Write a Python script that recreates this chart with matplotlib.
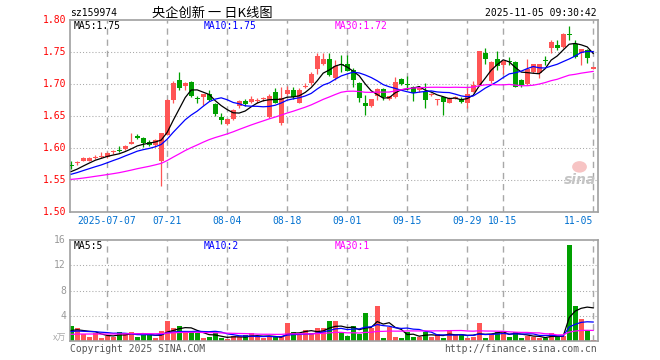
import matplotlib as mpl
mpl.use('Agg')
import matplotlib.pyplot as plt
from matplotlib.patches import Ellipse
import numpy as np
import pandas as pd

# daily K data, 2025-06-27 .. 2025-11-05 (price in CNY, volume in 万)
open_ = [1.573, 1.576, 1.580, 1.580, 1.585, 1.586, 1.586, 1.593, 1.596, 1.598,
         1.607, 1.619, 1.616, 1.609, 1.604, 1.580, 1.620, 1.675, 1.706, 1.697,
         1.703, 1.677, 1.680, 1.685, 1.669, 1.649, 1.638, 1.645, 1.665, 1.674,
         1.672, 1.673, 1.676, 1.648, 1.688, 1.639, 1.684, 1.690, 1.671, 1.695,
         1.701, 1.724, 1.731, 1.739, 1.710, 1.731, 1.731, 1.722, 1.701, 1.670,
         1.666, 1.681, 1.692, 1.677, 1.679, 1.708, 1.699, 1.696, 1.690, 1.688,
         1.683, 1.675, 1.679, 1.671, 1.678, 1.677, 1.671, 1.688, 1.698, 1.749,
         1.705, 1.739, 1.730, 1.736, 1.735, 1.707, 1.700, 1.718, 1.717, 1.737,
         1.756, 1.761, 1.758, 1.778, 1.763, 1.748, 1.753, 1.724]
high = [1.579, 1.580, 1.586, 1.586, 1.589, 1.593, 1.593, 1.597, 1.603, 1.605,
        1.623, 1.622, 1.617, 1.612, 1.614, 1.623, 1.676, 1.704, 1.719, 1.703,
        1.704, 1.681, 1.685, 1.691, 1.670, 1.654, 1.646, 1.661, 1.675, 1.676,
        1.681, 1.678, 1.680, 1.684, 1.694, 1.696, 1.697, 1.696, 1.693, 1.701,
        1.718, 1.748, 1.749, 1.749, 1.738, 1.745, 1.745, 1.725, 1.703, 1.683,
        1.677, 1.694, 1.693, 1.682, 1.711, 1.709, 1.712, 1.697, 1.694, 1.701,
        1.686, 1.677, 1.680, 1.679, 1.681, 1.679, 1.693, 1.704, 1.751, 1.756,
        1.736, 1.752, 1.737, 1.742, 1.736, 1.708, 1.739, 1.732, 1.732, 1.743,
        1.769, 1.768, 1.779, 1.791, 1.769, 1.755, 1.755, 1.727]
low = [1.567, 1.574, 1.579, 1.579, 1.583, 1.584, 1.585, 1.591, 1.593, 1.597,
       1.606, 1.614, 1.601, 1.603, 1.602, 1.541, 1.620, 1.671, 1.691, 1.690,
       1.680, 1.670, 1.667, 1.673, 1.650, 1.637, 1.636, 1.644, 1.662, 1.666,
       1.671, 1.671, 1.673, 1.647, 1.670, 1.636, 1.683, 1.676, 1.670, 1.693,
       1.699, 1.715, 1.730, 1.712, 1.706, 1.719, 1.720, 1.696, 1.672, 1.652,
       1.664, 1.675, 1.675, 1.675, 1.678, 1.699, 1.691, 1.674, 1.688, 1.663,
       1.682, 1.667, 1.652, 1.670, 1.677, 1.671, 1.662, 1.687, 1.697, 1.731,
       1.701, 1.722, 1.716, 1.730, 1.695, 1.696, 1.699, 1.717, 1.709, 1.730,
       1.749, 1.753, 1.757, 1.768, 1.740, 1.730, 1.733, 1.724]
close = [1.572, 1.577, 1.584, 1.585, 1.586, 1.587, 1.592, 1.595, 1.595, 1.603,
         1.608, 1.615, 1.608, 1.604, 1.612, 1.623, 1.675, 1.702, 1.693, 1.701,
         1.682, 1.676, 1.684, 1.675, 1.653, 1.643, 1.645, 1.659, 1.673, 1.669,
         1.676, 1.674, 1.677, 1.681, 1.671, 1.678, 1.690, 1.679, 1.690, 1.697,
         1.716, 1.743, 1.739, 1.714, 1.728, 1.730, 1.721, 1.707, 1.678, 1.665,
         1.676, 1.692, 1.679, 1.681, 1.703, 1.700, 1.698, 1.686, 1.693, 1.675,
         1.685, 1.676, 1.672, 1.678, 1.679, 1.672, 1.685, 1.698, 1.751, 1.739,
         1.735, 1.728, 1.736, 1.735, 1.696, 1.698, 1.724, 1.731, 1.731, 1.736,
         1.765, 1.756, 1.778, 1.776, 1.742, 1.754, 1.740, 1.727]
volume = [2.3, 2.0, 1.1, 0.7, 1.3, 0.5, 0.8, 0.7, 1.5, 1.3,
          1.5, 0.7, 0.9, 0.9, 0.5, 1.6, 3.2, 2.1, 2.3, 1.4,
          1.4, 1.2, 0.4, 0.6, 1.2, 0.4, 0.3, 0.8, 0.6, 1.0,
          1.2, 0.6, 0.4, 0.8, 0.6, 0.6, 2.8, 1.5, 0.9, 1.7,
          1.3, 2.0, 2.1, 3.1, 3.1, 1.5, 0.85, 2.4, 1.1, 4.4,
          2.0, 5.5, 0.4, 2.2, 0.7, 0.4, 1.4, 0.7, 0.6, 1.5,
          0.7, 1.1, 0.4, 1.8, 0.9, 0.9, 0.4, 0.6, 2.9, 0.5,
          1.1, 1.4, 1.5, 0.7, 1.4, 0.4, 0.8, 0.6, 0.5, 0.4,
          1.3, 0.8, 0.8, 15.2, 5.6, 3.5, 1.75, 0.2]

# sessions before 06-27 (off chart), only feed the moving averages
prior_close = [1.551, 1.549, 1.546, 1.544, 1.547, 1.550, 1.552, 1.548, 1.545, 1.547,
               1.549, 1.551, 1.548, 1.546, 1.552, 1.541, 1.543, 1.540, 1.545, 1.546,
               1.551, 1.553, 1.555, 1.556, 1.559, 1.558, 1.560, 1.562, 1.564]
prior_vol = [0.8, 0.9, 0.7, 1.0, 0.8, 0.6, 0.9, 1.1, 0.7, 0.8,
             0.9, 0.8, 0.7, 1.0, 0.9, 0.8, 0.7, 0.9, 0.8, 0.9,
             1.2, 1.5, 1.1, 1.6, 1.3, 1.4, 1.7, 1.3, 1.6]

tick_dates = ['2025-07-07', '2025-07-21', '2025-08-04', '2025-08-18', '2025-09-01',
              '2025-09-15', '2025-09-29', '2025-10-15', '2025-11-05']
tick_labels = ['2025-07-07', '07-21', '08-04', '08-18', '09-01',
               '09-15', '09-29', '10-15', '11-05']
price_ticks = [1.50, 1.55, 1.60, 1.65, 1.70, 1.75, 1.80]
vol_ticks = [4, 8, 12, 16]
price_legend = ['MA5:1.75', 'MA10:1.75', 'MA30:1.72']
vol_legend = ['MA5:5', 'MA10:2', 'MA30:1']

days = pd.bdate_range('2025-06-27', '2025-11-05')
days = days[(days < '2025-10-01') | (days > '2025-10-08')]
day_str = [d.strftime('%Y-%m-%d') for d in days]
n = len(close)
x = np.arange(n)

UP = '#ff5555'
DOWN = '#00a000'
FRAME = '#a0a0a0'
GRID = '#a8a8a8'
MONO = 'DejaVu Sans Mono'
ma_colors = ['black', '#0000ff', '#ff00ff']

o = np.array(open_); c = np.array(close); h = np.array(high); l = np.array(low)
up = c >= o
cols = np.where(up, UP, DOWN)

cs = pd.Series(prior_close + close)
vs = pd.Series(prior_vol + volume)
k = len(prior_close)

W, H = 660, 360
fig = plt.figure(figsize=(6.6, 3.6), dpi=100)
ax = fig.add_axes([70 / W, 1 - 212 / H, 528 / W, 192 / H])
axv = fig.add_axes([70 / W, 1 - 341 / H, 528 / W, 101 / H])

for a in (ax, axv):
    a.set_xlim(-0.2, 87.8)
    for s in a.spines.values():
        s.set_color(FRAME)
        s.set_linewidth(1.2)
    a.set_xticks([])
    a.set_yticks([])
    for d in tick_dates:
        a.plot([day_str.index(d)] * 2, [0, 1], transform=a.get_xaxis_transform(),
               color=GRID, lw=1.0, ls=(0, (4.5, 3.5)), zorder=1)

# price panel
ax.set_ylim(1.50, 1.80)
for p in price_ticks[1:-1]:
    ax.axhline(p, color=GRID, lw=0.75, ls=(0, (1, 2)), zorder=0)
ax.vlines(x, l, h, colors=cols, lw=0.9, zorder=2)
body = np.maximum(np.abs(c - o), 0.0016)
ax.bar(x, body, bottom=np.minimum(o, c), width=0.8, color=cols, lw=0, zorder=3)
for w, col in zip([5, 10, 30], ma_colors):
    ma = cs.rolling(w).mean().values[k:]
    ax.plot(x, ma, color=col, lw=0.9, zorder=4)
for p in price_ticks:
    fig.text(66 / W, 1 - (20 + (1.80 - p) * 640) / H, '%.2f' % p, color='red',
             ha='right', va='center', family=MONO, fontsize=7)
for txt, col, px in zip(price_legend, ma_colors, [74, 204, 335]):
    fig.text(px / W, 1 - 26 / H, txt, color=col, ha='left', va='center',
             family=MONO, fontsize=7)

# sina watermark
ax.add_patch(Ellipse((0.965, 0.235), 0.028, 0.06, transform=ax.transAxes,
                     facecolor='#f7c4c4', edgecolor='none', zorder=1))
ax.text(0.965, 0.165, 'sina', transform=ax.transAxes, ha='center', va='center',
        color='#c4c4c4', fontsize=10, fontweight='bold', style='italic', zorder=1)

# volume panel
axv.set_ylim(0, 16)
for v in vol_ticks[:-1]:
    axv.axhline(v, color=GRID, lw=0.75, ls=(0, (1, 2)), zorder=0)
axv.bar(x, volume, width=0.8, color=cols, lw=0, zorder=2)
for w, col in zip([5, 10, 30], ma_colors):
    ma = vs.rolling(w).mean().values[k:]
    axv.plot(x, ma, color=col, lw=0.9, zorder=4)
for v in vol_ticks:
    fig.text(66 / W, 1 - (341 - v * 101 / 16) / H, str(v), color='#999999',
             ha='right', va='center', family=MONO, fontsize=7)
fig.text(66 / W, 1 - 338 / H, 'x万', color='#aaaaaa', ha='right', va='center',
         family=['Noto Sans CJK SC', 'DejaVu Sans'], fontsize=6.5)
for txt, col, px in zip(vol_legend, ma_colors, [74, 204, 335]):
    fig.text(px / W, 1 - 246 / H, txt, color=col, ha='left', va='center',
             family=MONO, fontsize=7)

# date labels
for d, lab in zip(tick_dates, tick_labels):
    xi = day_str.index(d)
    px = 71 + 6 * xi
    ha = 'center'
    if lab == '11-05':
        px, ha = 593, 'right'
    fig.text(px / W, 1 - 221 / H, lab, color='#0070d0', ha=ha, va='center',
             family=MONO, fontsize=7)

# header / footer
fig.text(70 / W, 1 - 13 / H, 'sz159974', ha='left', va='center', family=MONO, fontsize=7)
fig.text(212 / W, 1 - 13 / H, '央企创新 一 日K线图', ha='center', va='center',
         family=['Noto Sans CJK SC', 'DejaVu Sans'], fontsize=9.5)
fig.text(597 / W, 1 - 13 / H, '2025-11-05 09:30:42', ha='right', va='center',
         family=MONO, fontsize=7)
fig.text(70 / W, 1 - 349 / H, 'Copyright 2025 SINA.COM', ha='left', va='center',
         color='#555555', family=MONO, fontsize=7)
fig.text(597 / W, 1 - 349 / H, 'http://finance.sina.com.cn', ha='right', va='center',
         color='#555555', family=MONO, fontsize=7)

fig.savefig('out.png', dpi=100)
